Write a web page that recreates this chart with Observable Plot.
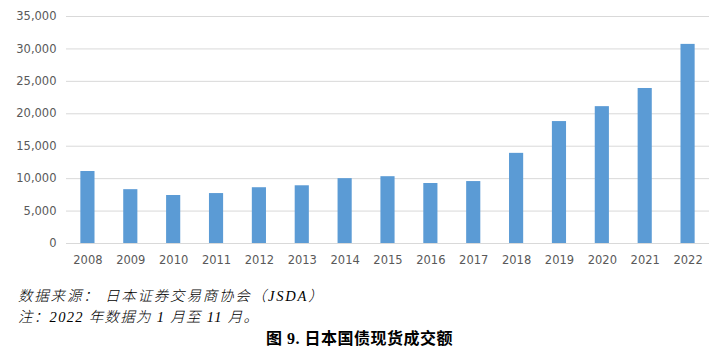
<!DOCTYPE html>
<html>
<head>
<meta charset="utf-8">
<script src="https://cdn.jsdelivr.net/npm/d3@7"></script>
<script src="https://cdn.jsdelivr.net/npm/@observablehq/plot@0.6"></script>
<style>
  html, body { margin: 0; padding: 0; background: #fff; }
  #wrap { width: 719px; }
  .note { font-family: "Liberation Serif", "Noto Sans CJK SC", serif; font-style: italic; font-weight: 300; font-size: 14.5px; color: #000; margin-left: 18px; letter-spacing: 1.8px; line-height: 21px; }
  .title { font-family: "Liberation Serif", "Noto Sans CJK SC", serif; font-weight: bold; font-size: 16px; text-align: center; line-height: 22px; letter-spacing: 0.5px; }
</style>
</head>
<body>
<div id="wrap"></div>
<script>
const years = ["2008","2009","2010","2011","2012","2013","2014","2015","2016","2017","2018","2019","2020","2021","2022"];
const values = [11100, 8300, 7400, 7700, 8600, 8900, 10000, 10300, 9250, 9550, 13900, 18800, 21100, 23900, 30700];
const yTicks = [0, 5000, 10000, 15000, 20000, 25000, 30000, 35000];
const sourceText = "数据来源： 日本证券交易商协会（JSDA）";
const noteText = "注：2022 年数据为 1 月至 11 月。";
const titleText = "图 9. 日本国债现货成交额";

const data = years.map((y, i) => ({year: y, value: values[i]}));

const chart = Plot.plot({
  width: 719,
  height: 275,
  marginTop: 16,
  marginBottom: 32,
  marginLeft: 66,
  marginRight: 10,
  style: { fontFamily: "DejaVu Sans", fontSize: "11.5px", color: "#595959", background: "#fff" },
  x: { domain: years, paddingInner: 0.67, paddingOuter: 0.335, round: false, label: null, tickSize: 0, tickPadding: 12 },
  y: { domain: [0, 35000], ticks: yTicks, tickFormat: d3.format(","), label: null, tickSize: 0, tickPadding: 10, grid: false },
  marks: [
    Plot.ruleY(yTicks, { stroke: "#d9d9d9", strokeWidth: 1 }),
    Plot.barY(data, { x: "year", y: "value", fill: "#5b9bd5" })
  ]
});

const wrap = document.getElementById("wrap");
wrap.appendChild(chart);
const n1 = document.createElement("div"); n1.className = "note"; n1.style.marginTop = "11px"; n1.textContent = sourceText; wrap.appendChild(n1);
const n2 = document.createElement("div"); n2.className = "note"; n2.style.letterSpacing = "1.3px"; n2.textContent = noteText; wrap.appendChild(n2);
const t = document.createElement("div"); t.className = "title"; t.textContent = titleText; wrap.appendChild(t);
</script>
</body>
</html>
